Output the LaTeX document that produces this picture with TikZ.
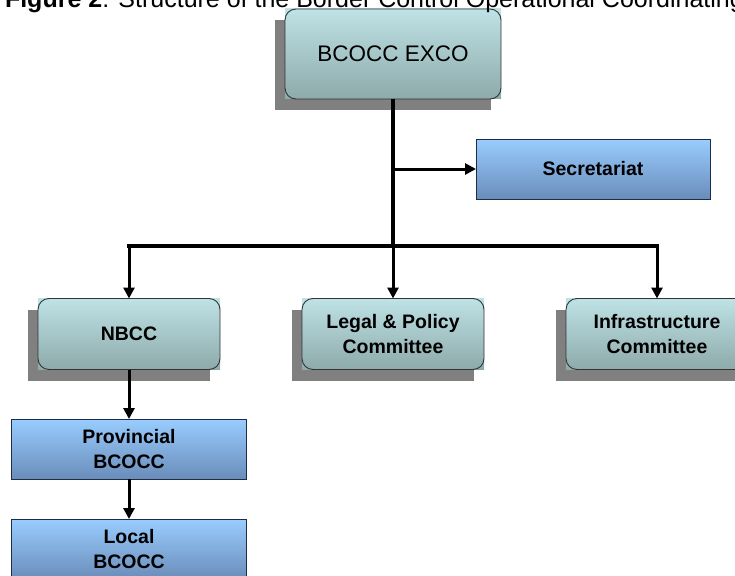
\documentclass[tikz,border=0pt]{standalone}
\usepackage{fontspec}
\setmainfont{Liberation Sans}
\usepackage{tikz}
\usetikzlibrary{arrows.meta,shadows}
\definecolor{boardTop}{RGB}{190,226,230}
\definecolor{boardBot}{RGB}{142,170,170}
\definecolor{officeTop}{RGB}{153,204,255}
\definecolor{officeBot}{RGB}{106,141,186}
\definecolor{officeEdge}{RGB}{30,45,70}
\tikzset{
  caption/.style={font=\fontsize{25}{30}\selectfont, inner sep=0pt},
  board/.style={shade, top color=boardTop, bottom color=boardBot,   % committee boxes
    minimum width=182pt, minimum height=71pt, outer sep=0pt, align=center,
    font=\bfseries\fontsize{19.5}{25}\selectfont,
    general shadow={fill=black!50, shadow xshift=-10pt, shadow yshift=-11pt}},
  boardEdge/.style={draw=black!80, line width=0.9pt, rounded corners=11pt},
  office/.style={shade, top color=officeTop, bottom color=officeBot, % office boxes
    draw=officeEdge, line width=1pt, minimum width=235pt, minimum height=60pt,
    outer sep=0pt, align=center, font=\bfseries\fontsize{19.5}{25}\selectfont},
  trunk/.style={line width=4pt},
  feed/.style={-{Triangle[width=11pt,length=11pt]}, line width=3pt}
}

\begin{document}
\begin{tikzpicture}[x=1pt,y=-1pt]
  \useasboundingbox (0,0) rectangle (735,575);
  % committees
  \node[board, minimum width=216pt, minimum height=90pt,
        font=\fontsize{22.5}{27}\selectfont] (exco) at (393,54) {BCOCC EXCO};
  \node[board] (nbcc) at (129,334) {NBCC};
  \node[board] (legal) at (393,334) {Legal \& Policy\\Committee};
  \node[board] (infra) at (657,334) {Infrastructure\\Committee};
  \foreach \n in {exco,nbcc,legal,infra}
    \draw[boardEdge] (\n.north west) rectangle (\n.south east);
  % offices
  \node[office, minimum width=234pt] (sec) at (593,169) {Secretariat};
  \node[office] (prov) at (129,449) {Provincial\\BCOCC};
  \node[office] (local) at (129,549) {Local\\BCOCC};
  % connectors
  \coordinate (bar) at (0,246);
  \draw[trunk] (exco.south) -- (exco.south |- bar);
  \draw[trunk, line cap=rect] (nbcc.north |- bar) -- (infra.north |- bar);
  \draw[feed] (exco.south |- sec.west) -- (sec.west);
  \foreach \n in {nbcc,legal,infra}
    \draw[feed] (\n.north |- bar) -- (\n.north);
  \draw[feed] (nbcc) -- (prov);
  \draw[feed] (prov) -- (local);
  % title, cut by the top of the page
  \node[caption, anchor=base east] (title) at (744,8)
    {\textbf{Figure 2}: Structure of the Border Control Operational Coordinating};
\end{tikzpicture}
\end{document}
